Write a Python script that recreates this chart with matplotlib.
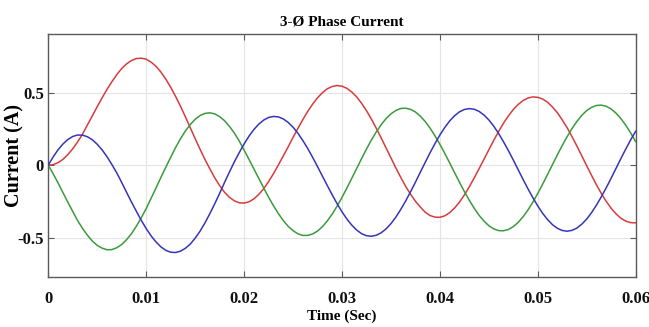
import numpy as np
import matplotlib
matplotlib.use("Agg")
import matplotlib.pyplot as plt

# Time samples (s), 0.5 ms spacing
time_s = np.linspace(0.0, 0.06, 121)

# Phase currents (A)
phase_red = [
    0.000, 0.003, 0.017, 0.040, 0.073, 0.113, 0.161, 0.214, 0.278, 0.340,
    0.404, 0.465, 0.523, 0.576, 0.625, 0.667, 0.699, 0.722, 0.736, 0.738,
    0.731, 0.711, 0.682, 0.643, 0.594, 0.538, 0.475, 0.407, 0.334, 0.259,
    0.183, 0.110, 0.040, -0.025, -0.087, -0.141, -0.187, -0.222, -0.246, -0.260,
    -0.262, -0.253, -0.233, -0.202, -0.163, -0.114, -0.059, 0.001, 0.063, 0.126,
    0.191, 0.254, 0.314, 0.371, 0.421, 0.465, 0.500, 0.527, 0.543, 0.549,
    0.545, 0.530, 0.505, 0.471, 0.427, 0.376, 0.318, 0.255, 0.188, 0.119,
    0.050, -0.019, -0.084, -0.146, -0.201, -0.249, -0.289, -0.325, -0.348, -0.359,
    -0.360, -0.350, -0.328, -0.296, -0.255, -0.206, -0.150, -0.089, -0.025, 0.040,
    0.106, 0.171, 0.232, 0.290, 0.340, 0.384, 0.419, 0.446, 0.463, 0.471,
    0.468, 0.456, 0.434, 0.401, 0.362, 0.312, 0.258, 0.196, 0.131, 0.063,
    -0.005, -0.072, -0.137, -0.197, -0.251, -0.298, -0.337, -0.367, -0.387, -0.397,
    -0.398]
phase_blue = [
    0.000, 0.057, 0.106, 0.146, 0.177, 0.198, 0.208, 0.207, 0.196, 0.175,
    0.144, 0.105, 0.058, 0.004, -0.054, -0.120, -0.188, -0.255, -0.319, -0.381,
    -0.438, -0.488, -0.530, -0.564, -0.588, -0.601, -0.603, -0.594, -0.574, -0.545,
    -0.504, -0.456, -0.399, -0.335, -0.267, -0.195, -0.120, -0.048, 0.022, 0.086,
    0.146, 0.200, 0.246, 0.283, 0.311, 0.329, 0.336, 0.333, 0.319, 0.295,
    0.262, 0.220, 0.170, 0.115, 0.054, -0.010, -0.076, -0.141, -0.205, -0.266,
    -0.322, -0.372, -0.414, -0.448, -0.473, -0.487, -0.491, -0.484, -0.467, -0.440,
    -0.404, -0.359, -0.306, -0.248, -0.184, -0.118, -0.049, 0.019, 0.086, 0.149,
    0.208, 0.260, 0.305, 0.341, 0.368, 0.384, 0.390, 0.386, 0.371, 0.346,
    0.312, 0.269, 0.218, 0.161, 0.100, 0.035, -0.032, -0.099, -0.164, -0.225,
    -0.282, -0.333, -0.376, -0.411, -0.436, -0.451, -0.456, -0.450, -0.434, -0.407,
    -0.372, -0.327, -0.275, -0.217, -0.155, -0.089, -0.021, 0.047, 0.113, 0.176,
    0.234]
phase_green = [
    0.000, -0.060, -0.123, -0.190, -0.256, -0.320, -0.383, -0.437, -0.484, -0.524,
    -0.554, -0.573, -0.584, -0.583, -0.570, -0.548, -0.514, -0.473, -0.421, -0.363,
    -0.300, -0.229, -0.158, -0.085, -0.015, 0.054, 0.121, 0.182, 0.235, 0.280,
    0.316, 0.342, 0.357, 0.361, 0.354, 0.335, 0.307, 0.268, 0.222, 0.167,
    0.104, 0.040, -0.026, -0.092, -0.157, -0.221, -0.280, -0.334, -0.382, -0.422,
    -0.452, -0.474, -0.485, -0.485, -0.475, -0.455, -0.425, -0.385, -0.338, -0.283,
    -0.223, -0.158, -0.091, -0.023, 0.045, 0.111, 0.173, 0.229, 0.279, 0.321,
    0.354, 0.377, 0.391, 0.393, 0.385, 0.367, 0.338, 0.301, 0.255, 0.202,
    0.144, 0.081, 0.015, -0.052, -0.118, -0.182, -0.242, -0.297, -0.346, -0.386,
    -0.418, -0.440, -0.452, -0.453, -0.444, -0.424, -0.395, -0.356, -0.309, -0.255,
    -0.195, -0.131, -0.064, 0.004, 0.071, 0.136, 0.197, 0.253, 0.302, 0.344,
    0.377, 0.399, 0.412, 0.414, 0.406, 0.387, 0.358, 0.320, 0.274, 0.221,
    0.162]

x_ticks = [0, 0.01, 0.02, 0.03, 0.04, 0.05, 0.06]
x_tick_labels = ["0", "0.01", "0.02", "0.03", "0.04", "0.05", "0.06"]
y_ticks = [-0.5, 0, 0.5]
y_tick_labels = ["-0.5", "0", "0.5"]

title_text = "3-Ø Phase Current"
x_label = "Time (Sec)"
y_label = "Current (A)"

serif = ["Liberation Serif", "DejaVu Serif"]

fig = plt.figure(figsize=(6.49, 3.27), dpi=100)
ax = fig.add_axes([0.0744, 0.1538, 0.9051, 0.7422])

ax.plot(time_s, phase_red, color="#d63c3c", lw=1.1, zorder=3)
ax.plot(time_s, phase_green, color="#3c9a3c", lw=1.1, zorder=3)
ax.plot(time_s, phase_blue, color="#3535ba", lw=1.1, zorder=3)

ax.set_xlim(0, 0.06)
ax.set_ylim(-0.77, 0.905)
ax.set_xticks(x_ticks)
ax.set_xticklabels(x_tick_labels)
ax.set_yticks(y_ticks)
ax.set_yticklabels(y_tick_labels)

ax.grid(True, color="#e4e4e4", lw=0.8)
ax.set_axisbelow(True)
for s in ax.spines.values():
    s.set_color("#5a5a5a")
    s.set_linewidth(1.0)
ax.tick_params(direction="in", length=4, width=0.8, color="#5a5a5a",
               top=True, right=True)
ax.tick_params(axis="x", pad=10)
ax.tick_params(axis="y", pad=3)
for lab in ax.get_xticklabels() + ax.get_yticklabels():
    lab.set_fontfamily(serif)
    lab.set_fontweight("bold")
    lab.set_fontsize(12)
    lab.set_color("#111111")

ax.set_title(title_text, fontfamily=serif, fontweight="bold", fontsize=11, pad=6)
ax.set_xlabel(x_label, fontfamily=serif, fontweight="bold", fontsize=11, labelpad=2)
ax.set_ylabel(y_label, fontfamily=serif, fontweight="bold", fontsize=14.5)
ax.yaxis.set_label_coords(-0.040, 0.5)

fig.savefig("out.png", dpi=100, facecolor="white")
